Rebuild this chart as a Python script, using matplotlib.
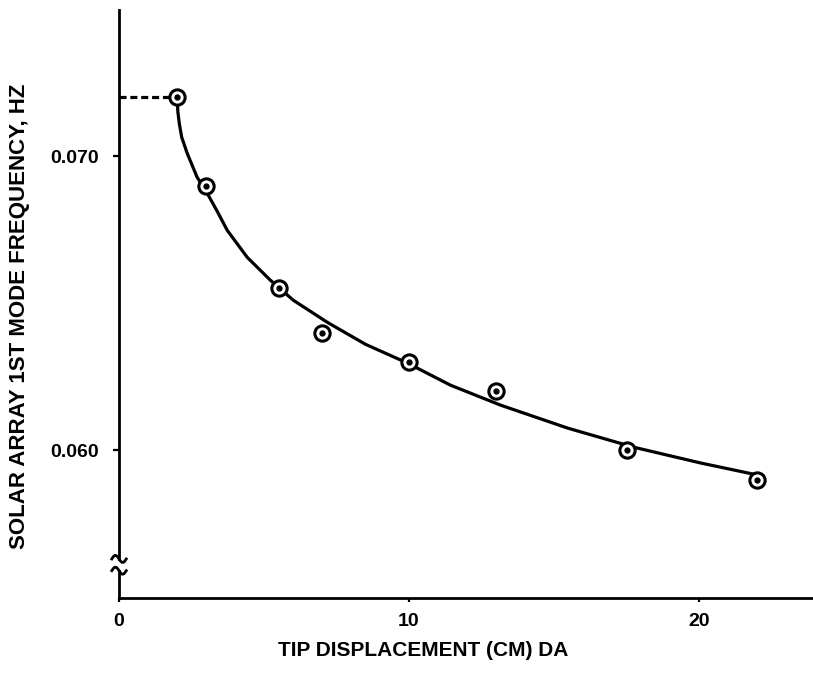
import matplotlib
matplotlib.use("Agg")
import matplotlib.pyplot as plt
import numpy as np

# measured points
disp = [2.0, 3.0, 5.5, 7.0, 10.0, 13.0, 17.5, 22.0]
freq = [0.0720, 0.0690, 0.0655, 0.0640, 0.0630, 0.0620, 0.0600, 0.0590]

# faired curve
curve_x = [2.0, 2.03, 2.08, 2.16, 2.35, 2.69, 3.04, 3.4, 3.73, 4.42, 5.22, 6.01,
           7.18, 8.5, 9.95, 11.43, 13.16, 15.47, 17.75, 20.07, 22.04]
curve_y = [0.0720, 0.0715, 0.0711, 0.07065, 0.0701, 0.06929, 0.06874, 0.0681,
           0.06748, 0.06656, 0.06578, 0.0651, 0.06435, 0.0636, 0.06296, 0.06221,
           0.06153, 0.06075, 0.0601, 0.05956, 0.05915]

# extrapolated dashed segment
dash_x = [0.0, 2.0]
dash_y = [0.0720, 0.0720]

xticks = [0, 10, 20]
xtick_labels = ["0", "10", "20"]
yticks = [0.060, 0.070]
ytick_labels = ["0.060", "0.070"]

plt.rcParams['font.family'] = ['Liberation Sans', 'DejaVu Sans']
plt.rcParams['font.weight'] = 'bold'

fig = plt.figure(figsize=(8.13, 6.73), dpi=100)
ax = fig.add_axes([0.1464, 0.1114, 0.8526, 0.8736])

ax.plot(curve_x, curve_y, color='black', lw=2.3, solid_capstyle='round',
        solid_joinstyle='round', zorder=2)
ax.plot(dash_x, dash_y, color='black', lw=2.3, ls=(0, (2.2, 1.2)), zorder=2)
ax.plot(disp, freq, ls='none', marker='o', ms=11, mfc='white', mec='black', mew=2.2, zorder=3)
ax.plot(disp, freq, ls='none', marker='o', ms=3.5, mfc='black', mec='black', zorder=4)

ax.set_xlim(0, 23.9)
ax.set_ylim(0.05497, 0.07497)
ax.set_xticks(xticks)
ax.set_xticklabels(xtick_labels)
ax.set_yticks(yticks)
ax.set_yticklabels(ytick_labels)
ax.tick_params(axis='y', direction='out', length=4.5, width=1.6, labelsize=14, pad=10)
ax.tick_params(axis='x', direction='out', length=3, width=1.6, labelsize=14, pad=8)
for lab in ax.get_xticklabels() + ax.get_yticklabels():
    lab.set_fontweight('bold')

for s in ['top', 'right']:
    ax.spines[s].set_visible(False)
for s in ['left', 'bottom']:
    ax.spines[s].set_linewidth(2.0)

# axis break on the y axis
brk_lo, brk_hi = 0.05590, 0.05630
ax.spines['left'].set_visible(False)
ax.plot([0, 0], [brk_hi, 0.07497], color='black', lw=2.0, clip_on=False, zorder=5)
ax.plot([0, 0], [0.05497, brk_lo], color='black', lw=2.0, clip_on=False, zorder=5)
t = np.linspace(0, 1, 20)
for yb in (brk_lo, brk_hi):
    xs = -0.25 + 0.5 * t
    ys = yb + 0.00012 * np.sin(2 * np.pi * t)
    ax.plot(xs, ys, color='black', lw=2.0, clip_on=False, zorder=5)

ax.set_xlabel("TIP DISPLACEMENT (CM) DA", fontsize=15, fontweight='bold')
ax.xaxis.set_label_coords(0.439, -0.073)
ax.set_ylabel("SOLAR ARRAY 1ST MODE FREQUENCY, HZ", fontsize=16, fontweight='bold')
ax.yaxis.set_label_coords(-0.128, 0.48)

fig.savefig("out.png", dpi=100, facecolor='white')
